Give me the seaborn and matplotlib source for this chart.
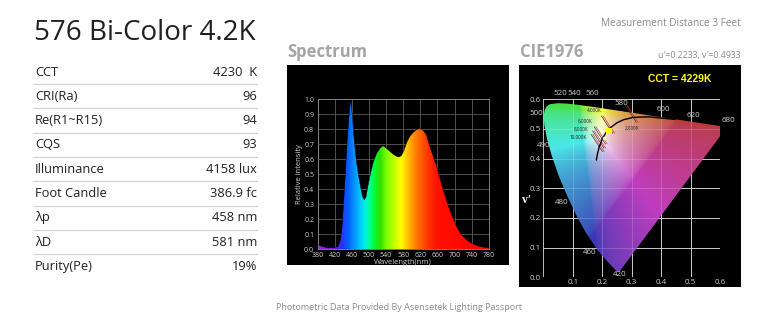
import numpy as np
import pandas as pd
import matplotlib
matplotlib.use("Agg")
import matplotlib.pyplot as plt
import seaborn as sns
from matplotlib.colors import LinearSegmentedColormap
from matplotlib.patches import Polygon, Rectangle
from matplotlib.lines import Line2D

# ---------------- data ----------------
title = "576 Bi-Color 4.2K"
table_labels = ["CCT", "CRI(Ra)", "Re(R1~R15)", "CQS", "Illuminance", "Foot Candle", "λp", "λD", "Purity(Pe)"]
table_values = ["4230  K", "96", "94", "93", "4158 lux", "386.9 fc", "458 nm", "581 nm", "19%"]

wavelength = [380, 390, 400, 410, 420, 428, 433, 437, 441, 445, 449, 453, 457, 461, 465, 470, 475, 480,
              485, 489, 493, 498, 504, 510, 518, 526, 533, 540, 548, 556, 564, 570, 576, 582, 588, 595,
              602, 610, 618, 626, 634, 642, 650, 657, 665, 672, 678, 685, 692, 700, 706, 713, 720, 730,
              740, 750, 760, 770, 780]
intensity = [0.03, 0.02, 0.012, 0.01, 0.01, 0.02, 0.06, 0.15, 0.33, 0.52, 0.72, 0.88, 1.00, 0.89, 0.74,
             0.60, 0.50, 0.42, 0.35, 0.33, 0.35, 0.43, 0.51, 0.58, 0.64, 0.675, 0.69, 0.675, 0.655, 0.635,
             0.62, 0.615, 0.625, 0.66, 0.71, 0.75, 0.775, 0.795, 0.805, 0.795, 0.765, 0.69, 0.62, 0.565,
             0.48, 0.41, 0.355, 0.295, 0.24, 0.185, 0.145, 0.11, 0.085, 0.06, 0.04, 0.028, 0.018, 0.013, 0.01]
spec_xticks = list(range(380, 781, 40))
spec_yticks = [round(0.1 * i, 1) for i in range(11)]

# CIE 1976 spectral locus (u', v')
locus_wl = [380, 430, 440, 450, 460, 470, 475, 480, 485, 490, 495, 500, 505, 510, 515, 520, 530,
            540, 550, 560, 570, 580, 590, 600, 610, 620, 640, 660, 700]
locus_u = [0.2568, 0.2461, 0.2347, 0.2161, 0.1877, 0.1441, 0.1147, 0.0828, 0.0521, 0.0282, 0.0119,
           0.0035, 0.0014, 0.0046, 0.0123, 0.0231, 0.0501, 0.0792, 0.1127, 0.1531, 0.2026, 0.2623,
           0.3315, 0.4035, 0.4692, 0.5203, 0.5830, 0.6109, 0.6234]
locus_v = [0.0166, 0.0226, 0.0350, 0.0549, 0.0871, 0.1510, 0.2044, 0.2708, 0.3427, 0.4117, 0.4698,
           0.5131, 0.5432, 0.5638, 0.5770, 0.5837, 0.5868, 0.5856, 0.5821, 0.5766, 0.5694, 0.5604,
           0.5501, 0.5393, 0.5296, 0.5219, 0.5125, 0.5084, 0.5065]
locus_label_text = ["520", "540", "560", "580", "600", "620", "680", "500", "490", "480", "460", "420"]
locus_label_u = [0.057, 0.105, 0.166, 0.266, 0.408, 0.509, 0.628, -0.025, 0.0, 0.062, 0.156, 0.258]
locus_label_v = [0.618, 0.618, 0.618, 0.587, 0.566, 0.546, 0.530, 0.553, 0.443, 0.253, 0.084, 0.010]

# Planckian locus
planck_T = ["inf", "20000", "10000", "8000", "6500", "5000", "4000", "3000", "2500", "2000", "1500", "1000"]
planck_u = [0.180, 0.184, 0.190, 0.195, 0.200, 0.211, 0.225, 0.2505, 0.272, 0.305, 0.358, 0.448]
planck_v = [0.395, 0.416, 0.440, 0.452, 0.466, 0.485, 0.502, 0.521, 0.531, 0.539, 0.541, 0.532]
iso_labels = ["10,000K", "8,000K", "6,000K", "4,000K", "2,000K"]
iso_index = [2, 3, 4, 6, 9]
iso_label_u = [0.117, 0.127, 0.142, 0.173, 0.303]
iso_label_v = [0.471, 0.499, 0.525, 0.564, 0.501]

measured_u, measured_v = 0.2233, 0.4933
ref_u, ref_v = 0.207, 0.468
cie_ticks = [round(0.1 * i, 1) for i in range(7)]

# ---------------- figure ----------------
sns.set_theme(style="white")
plt.rcParams["font.family"] = ["Open Sans", "DejaVu Sans"]

W, H = 776, 330
fig = plt.figure(figsize=(W / 100, H / 100), dpi=100)
fig.patch.set_facecolor("white")

def fx(px):
    return px / W

def fy(py):
    return 1 - py / H

# title and header texts
fig.text(fx(34), fy(33), title, fontsize=20, color="#231f20", va="center", ha="left")
fig.text(fx(741), fy(24), "Measurement Distance 3 Feet", fontsize=7.2, color="#8a8a8a", ha="right", va="center")
fig.text(fx(287), fy(52), "Spectrum", fontsize=12, color="#a5a5a5", weight="bold", ha="left", va="center")
fig.text(fx(520), fy(52), "CIE1976", fontsize=12, color="#a5a5a5", weight="bold", ha="left", va="center")
fig.text(fx(741), fy(55.5), "u\u2032=0.2233, v\u2032=0.4933", fontsize=6.3, color="#8a8a8a", ha="right", va="center")
fig.text(fx(399), fy(307), "Photometric Data Provided By Asensetek Lighting Passport", fontsize=6.5,
         color="#8a8a8a", ha="center", va="center")

# table
for i, (lab, val) in enumerate(zip(table_labels, table_values)):
    yc = 72 + 24.3 * i
    fig.text(fx(35), fy(yc), lab, fontsize=9.3, color="#231f20", ha="left", va="center")
    fig.text(fx(257), fy(yc), val, fontsize=9.3, color="#231f20", ha="right", va="center")
    if i < len(table_labels) - 1:
        fig.add_artist(Line2D([fx(34), fx(257)], [fy(yc + 12)] * 2, color="#d0d0d0", lw=0.9))

# black panels
fig.add_artist(Rectangle((fx(287), fy(265)), (509 - 287) / W, 200 / H, transform=fig.transFigure,
                         facecolor="black", edgecolor="none", zorder=0))
fig.add_artist(Rectangle((fx(519), fy(287)), (741 - 519) / W, 222 / H, transform=fig.transFigure,
                         facecolor="black", edgecolor="none", zorder=0))

# ---------------- spectrum ----------------
ax = fig.add_axes([fx(317.7), fy(249.3), 171 / W, 150 / H])
ax.set_facecolor("black")
ax.set_xlim(380, 780)
ax.set_ylim(0, 1)
ax.set_xticks(spec_xticks)
ax.set_yticks(spec_yticks)
ax.set_yticklabels([f"{t:.1f}" for t in spec_yticks])
ax.grid(True, color="#5a5a5a", lw=0.6)
ax.set_axisbelow(True)
for s in ax.spines.values():
    s.set_color("#8a8a8a")
    s.set_linewidth(0.6)
ax.tick_params(colors="#d0d0d0", labelsize=5, length=0)
ax.tick_params(axis="x", pad=2.2)
ax.tick_params(axis="y", pad=2.5)

spec_anchor_wl = [380, 420, 435, 450, 460, 470, 480, 490, 500, 510, 525, 540, 560, 575, 590, 605, 620, 640, 660, 780]
spec_anchor_col = ["#9a20d8", "#6a18e0", "#2a30ff", "#0060ff", "#0a82ff", "#00a8ff", "#00d0f8", "#00f0e0",
                   "#00ff9a", "#00ff40", "#30e000", "#78ff00", "#c8ff00", "#ffff00", "#ffc000", "#ff8a00",
                   "#ff6000", "#ff3000", "#ff1000", "#ff0000"]
cmap = LinearSegmentedColormap.from_list(
    "spec", [((w - 380) / 400, c) for w, c in zip(spec_anchor_wl, spec_anchor_col)])
grad = np.linspace(0, 1, 800)[None, :]
im = ax.imshow(grad, cmap=cmap, extent=[380, 780, 0, 1], aspect="auto", zorder=2, interpolation="bilinear")
spec_df = pd.DataFrame({"wavelength": wavelength, "intensity": intensity})
verts = [(wavelength[0], 0)] + list(zip(wavelength, intensity)) + [(wavelength[-1], 0)]
clip = Polygon(verts, closed=True, transform=ax.transData, facecolor="none", edgecolor="none")
ax.add_patch(clip)
im.set_clip_path(clip)
sns.lineplot(data=spec_df, x="wavelength", y="intensity", ax=ax, color="black", lw=0.3, zorder=3)
ax.set_xlim(380, 780)
ax.set_ylim(0, 1)
ax.set_xlabel("Wavelength(nm)", fontsize=5.5, color="#d0d0d0", labelpad=0)
ax.set_ylabel("Relative intensity", fontsize=5.5, color="#d0d0d0", labelpad=1)

# ---------------- CIE 1976 ----------------
cx = fig.add_axes([fx(543.3), fy(277.3), 176.7 / W, 178 / H])
cx.set_facecolor("black")
cx.set_xlim(0, 0.6)
cx.set_ylim(0, 0.6)
cx.set_xticks(cie_ticks)
cx.set_yticks(cie_ticks)
cx.set_xticklabels(["", "0.1", "0.2", "0.3", "0.4", "0.5", "0.6"])
cx.set_yticklabels([f"{t:.1f}" for t in cie_ticks])
cx.grid(True, color="#bdbdbd", lw=0.7)
cx.set_axisbelow(True)
for s in cx.spines.values():
    s.set_visible(False)
cx.tick_params(colors="#cfcfcf", labelsize=5.8, length=0, pad=1.5)

n = 400
uu, vv = np.meshgrid(np.linspace(0, 0.65, n), np.linspace(0.001, 0.62, n))
den = 6 * uu - 16 * vv + 12
xx = 9 * uu / den
yy = 4 * vv / den
X = xx / yy
Y = np.ones_like(X)
Z = (1 - xx - yy) / yy
M = np.array([[3.2406, -1.5372, -0.4986], [-0.9689, 1.8758, 0.0415], [0.0557, -0.2040, 1.0570]])
rgb = np.einsum("ij,jkl->kli", M, np.stack([X, Y, Z]))
rgb = np.clip(rgb, 0, None)
rgb = rgb / rgb.max(axis=2, keepdims=True)
rgb = np.clip(rgb, 0, 1) ** (1 / 2.2)
# soften to the muted look of the reference diagram
mx = rgb.max(axis=2, keepdims=True)
rgb = 0.68 * rgb + 0.32 * mx
lum = (0.2126 * rgb[..., 0] + 0.7152 * rgb[..., 1] + 0.0722 * rgb[..., 2])[..., None]
rgb = np.clip(rgb * (0.66 + 0.34 * lum ** 2), 0, 1)
cim = cx.imshow(rgb, origin="lower", extent=[0, 0.65, 0.001, 0.62], aspect="auto", zorder=2,
                interpolation="bilinear")
lpoly = Polygon(list(zip(locus_u, locus_v)), closed=True, transform=cx.transData,
                facecolor="none", edgecolor="none")
cx.add_patch(lpoly)
cim.set_clip_path(lpoly)
for t in cie_ticks[1:]:
    cx.axvline(t, color="white", lw=0.6, alpha=0.22, zorder=3)
    cx.axhline(t, color="white", lw=0.6, alpha=0.22, zorder=3)
cx.set_xlim(0, 0.6)
cx.set_ylim(0, 0.6)

for t, u, v in zip(locus_label_text, locus_label_u, locus_label_v):
    cx.text(u, v, t, fontsize=5.8, color="#cfcfcf", ha="center", va="center", clip_on=False, zorder=5)

# isotherm short lines
direction = np.array([0.55, -0.835])
for k, (idx, lab, lu, lv) in enumerate(zip(iso_index, iso_labels, iso_label_u, iso_label_v)):
    cu, cv = planck_u[idx], planck_v[idx]
    t0, t1 = -0.05, 0.02
    cx.plot([cu + t0 * direction[0], cu + t1 * direction[0]],
            [cv + t0 * direction[1], cv + t1 * direction[1]], color="#333333", lw=0.5, zorder=4)
    cx.plot([cu + t0 * direction[0] + 0.006, cu + t1 * direction[0] + 0.006],
            [cv + t0 * direction[1], cv + t1 * direction[1]], color="#e03030", lw=0.5, zorder=4)
    cx.text(lu, lv, lab, fontsize=3.3, color="#222222", ha="center", va="center", zorder=5)

planck_df = pd.DataFrame({"u": planck_u, "v": planck_v})
sns.lineplot(data=planck_df, x="u", y="v", sort=False, ax=cx, color="black", lw=1.0, zorder=4)
cx.scatter([ref_u], [ref_v], s=6, color="#fff7a0", zorder=5, linewidths=0)
cx.scatter([measured_u], [measured_v], s=14, marker="s", color="#ffff00", zorder=6, linewidths=0)
cx.set_xlabel("")
cx.set_ylabel("")

fig.text(fx(680), fy(79), "CCT = 4229K", fontsize=7.5, color="#ffff00", weight="bold",
         family=["Liberation Sans", "DejaVu Sans"], ha="center", va="center")
fig.text(fx(527), fy(200), "v\u2032", fontsize=8.5, color="white", weight="bold",
         family=["Liberation Serif", "DejaVu Serif"], ha="center", va="center")

fig.savefig("out.png", dpi=100, facecolor="white")
